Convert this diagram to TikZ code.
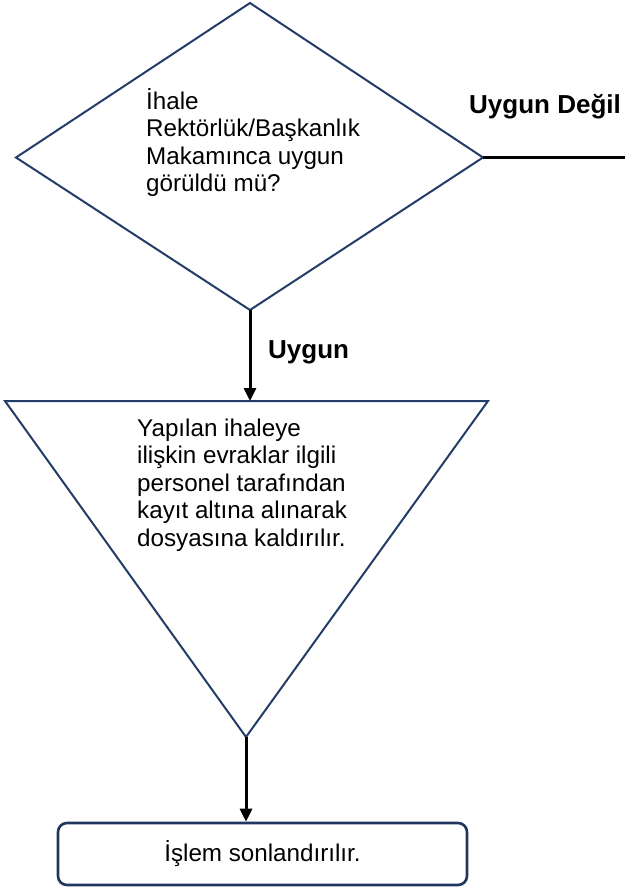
\documentclass[tikz,border=0pt]{standalone}
\usepackage{fontspec}
\setmainfont{Liberation Sans}
\usetikzlibrary{arrows.meta}
\definecolor{shapeblue}{RGB}{36,60,104}
\tikzset{
  shapeline/.style={draw=shapeblue, line width=2pt, line join=miter},
  flowarrow/.style={draw=black, line width=3pt, -{Triangle[length=13pt,width=12pt]}},
  plainline/.style={draw=black, line width=3pt},
  bodytext/.style={inner sep=0pt, align=left, font=\fontsize{24.2}{27.6}\selectfont},
  labeltext/.style={inner sep=0pt, font=\fontsize{26}{30}\selectfont\bfseries},
  endbox/.style={shapeline, line width=2.6pt, draw=shapeblue!90!black, rounded corners=9pt, minimum width=409pt, minimum height=62pt, inner sep=0pt, font=\fontsize{24.2}{27.6}\selectfont}
}
\begin{document}
\begin{tikzpicture}[x=1pt,y=-1pt]
\useasboundingbox (0,0) rectangle (625,890);
% diamond
\coordinate (dt) at (250,3);
\coordinate (dl) at (16,157.5);
\coordinate (dr) at (483,157.5);
\coordinate (db) at (250,310);
\draw[shapeline] (dt) -- (dr) -- (db) -- (dl) -- cycle;
\node[bodytext, anchor=west] (qtext) at (146,142.5) {İhale\\Rektörlük/Başkanlık\\Makamınca uygun\\görüldü mü?};
% exit line
\coordinate (exit) at (625,157.5);
\draw[plainline] (dr) -- (exit);
\node[labeltext, anchor=west] (nolabel) at (469,107) {Uygun Değil};
% triangle
\coordinate (tl) at (5,401);
\coordinate (tr) at (488,401);
\coordinate (tb) at (246,737);
\coordinate (ttop) at (250,401);
\draw[shapeline] (tl) -- (tr) -- (tb) -- cycle;
\node[bodytext, anchor=west] (ttext) at (137,485) {Yapılan ihaleye\\ilişkin evraklar ilgili\\personel tarafından\\kayıt altına alınarak\\dosyasına kaldırılır.};
% arrow 1
\draw[flowarrow] (db) -- (ttop);
\node[labeltext, anchor=west] (yeslabel) at (268,352) {Uygun};
% end box
\node[endbox] (endnode) at (262.5,854) {İşlem sonlandırılır.};
\draw[flowarrow] (tb) -- (tb |- endnode.north);
\end{tikzpicture}
\end{document}
